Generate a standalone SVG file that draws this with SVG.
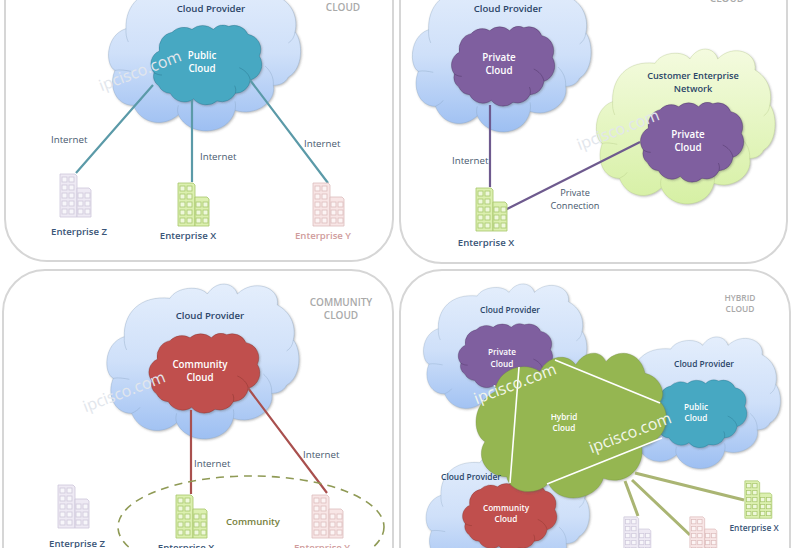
<svg xmlns="http://www.w3.org/2000/svg" width="793" height="548" viewBox="0 0 793 548">
<style>
text{font-family:"Open Sans","Noto Sans","DejaVu Sans",sans-serif;text-anchor:middle}
.frame{fill:#fff;stroke:#d6d6d6;stroke-width:2}
.title{font-size:10px;font-weight:600;fill:#a9a9a9}
.cp{font-size:9.6px;font-weight:600;fill:#2b4568}
.cp4{font-size:8.4px;font-weight:600;fill:#2b4568}
.in{font-size:9.8px;font-weight:600;fill:#fff}
.in4{font-size:8.2px;font-weight:600;fill:#fff}
.net{font-size:9.7px;fill:#47586e;text-anchor:start}
.lbl{font-size:9.2px;fill:#47586e}
.ent{font-size:9.6px;font-weight:600;fill:#3a5577}
.ent4{font-size:8.4px;font-weight:600;fill:#3a5577}
.enty{font-size:9.6px;font-weight:600;fill:#d09c9c}
.wm{font-size:16px;fill:#e2e6ec}
.wmw{font-size:16px;fill:#f2f6ea}
.blue{fill:url(#gb);stroke:#7f9ab8;filter:url(#sh)}
.lime{fill:url(#gg);stroke:#a9c07c;filter:url(#sh)}
.pub{fill:#46a8c2;stroke:#20627a;filter:url(#sh)}
.pri{fill:#7f5e9f;stroke:#35254d;filter:url(#sh)}
.com{fill:#c0504d;stroke:#6f2422;filter:url(#sh)}
.hyb{fill:#95b651;stroke:#6d8a3b;filter:url(#sh)}
.cr{fill:none}
.bZ{fill:#eeeaf4;color:#cdc7da}
.bX{fill:#dcf0b0;color:#a6c56b}
.bY{fill:#f8e6e6;color:#dcbcbc}
.l1{stroke:#5b9aa8;stroke-width:2.2;fill:none}
.l2{stroke:#6e5a8e;stroke-width:2.2;fill:none}
.l3{stroke:#a9504e;stroke-width:2.2;fill:none}
.lw{stroke:#fff;stroke-width:1.6;fill:none}
.lo{stroke:#aab573;stroke-width:3;fill:none}
</style>
<defs>
<linearGradient id="gb" x1="0" y1="0" x2="0" y2="1"><stop offset="0" stop-color="#e4eefc"/><stop offset=".5" stop-color="#cfe0f9"/><stop offset="1" stop-color="#9dbff2"/></linearGradient>
<linearGradient id="gg" x1="0" y1="0" x2="0" y2="1"><stop offset="0" stop-color="#f4fbdf"/><stop offset="1" stop-color="#d6f0a4"/></linearGradient>
<filter id="sh" x="-5%" y="-5%" width="112%" height="112%"><feDropShadow dx="1" dy="1" stdDeviation="1" flood-color="#555" flood-opacity=".4"/></filter>
<g id="big">
<path d="M373 200C370 130 420 75 510 85C530 50 600 45 622 72C650 30 700 35 712 72C760 25 840 50 832 105C870 125 890 165 880 210C905 240 905 320 860 345C850 365 830 370 815 370C825 420 760 465 700 445C680 525 560 525 530 458C490 495 420 490 395 430C340 430 320 370 340 325C310 310 310 220 373 200Z"/>
<path class="cr" d="M880 210C878 225 872 235 860 243M815 370C817 345 805 325 790 312M700 445C702 435 702 428 700 418M530 458C527 450 527 440 530 430M395 430C405 425 415 420 420 412M340 325C355 322 372 325 388 328M373 200C372 215 374 228 380 240"/>
</g>
<g id="small">
<path d="M472 268A48 48 0 0 1 510 212A50 50 0 0 1 570 203A50 50 0 0 1 634 203A42 42 0 0 1 680 194A46 46 0 0 1 738 218A46 46 0 0 1 772 283A48 48 0 0 1 745 355A46 46 0 0 1 700 395A46 46 0 0 1 645 418A50 50 0 0 1 575 412A48 48 0 0 1 505 395A42 42 0 0 1 470 372A34 34 0 0 1 456 333A42 42 0 0 1 472 268Z"/>
<path class="cr" d="M745 355C742 338 728 325 712 318M700 395C702 388 702 380 698 372M456 333C465 338 472 340 480 340"/>
</g>
<g id="b">
<path d="M1 1H16L18 3V44H1Z" stroke="currentColor" stroke-width=".8"/>
<path d="M18 15H30L32 17V44H18Z" stroke="currentColor" stroke-width=".8"/>
<g fill="#fff" fill-opacity=".55" stroke="currentColor" stroke-width=".8">
<rect x="3" y="4" width="5" height="5"/><rect x="10" y="4" width="5" height="5"/>
<rect x="3" y="12" width="5" height="5"/><rect x="10" y="12" width="5" height="5"/>
<rect x="3" y="20" width="5" height="5"/><rect x="10" y="20" width="5" height="5"/><rect x="19" y="20" width="5" height="5"/><rect x="26" y="20" width="5" height="5"/>
<rect x="3" y="28" width="5" height="5"/><rect x="10" y="28" width="5" height="5"/><rect x="19" y="28" width="5" height="5"/><rect x="26" y="28" width="5" height="5"/>
<rect x="3" y="36" width="5" height="5"/><rect x="10" y="36" width="5" height="5"/><rect x="19" y="36" width="5" height="5"/><rect x="26" y="36" width="5" height="5"/>
</g>
</g>
</defs>
<rect width="793" height="548" fill="#fff"/>
<g id="frames">
<rect class="frame" x="5" y="-40" width="388" height="301" rx="42"/>
<rect class="frame" x="400" y="-40" width="387" height="303" rx="42"/>
<rect class="frame" x="3" y="270" width="390" height="320" rx="42"/>
<rect class="frame" x="400" y="270" width="390" height="320" rx="42"/>
</g>
<g id="panel-public">
<g id="pub-provider" class="blue"><use href="#big" transform="translate(1.7,-38) scale(.3333)"/></g>
<g id="pub-cloud" class="pub"><use href="#small" transform="translate(2,-38.3) scale(.3333)"/></g>
</g>
<g id="panel-private">
<g id="pri-provider" class="blue"><use href="#big" transform="translate(313,-37) scale(.31,.3333)"/></g>
<g id="pri-cloud" class="pri"><use href="#small" transform="translate(313,-37) scale(.31,.3333)"/></g>
<g id="pri-customer" class="lime"><use href="#big" transform="translate(497,35) scale(.31,.3333)"/></g>
<g id="pri-cloud2" class="pri"><use href="#small" transform="translate(502,39) scale(.31,.3333)"/></g>
</g>
<g id="panel-community">
<g id="com-provider" class="blue"><use href="#big" transform="translate(0,270) scale(.3333)"/></g>
<g id="com-cloud" class="com"><use href="#small" transform="translate(0,270) scale(.3333)"/></g>
</g>
<g id="panel-hybrid">
<g id="hyb-provider1" class="blue"><use href="#big" transform="translate(332.7,272) scale(.2833)"/></g>
<g id="hyb-provider2" class="blue"><use href="#big" transform="translate(526.3,325) scale(.2833)"/></g>
<g id="hyb-provider3" class="blue"><use href="#big" transform="translate(335.3,438.7) scale(.2833)"/></g>
<g id="hyb-private" class="pri"><use href="#small" transform="translate(331.7,271) scale(.2833,.277)"/></g>
<g id="hyb-public" class="pub"><use href="#small" transform="translate(526,326) scale(.2833)"/></g>
<g id="hyb-community" class="com"><use href="#small" transform="translate(336,429.3) scale(.2833)"/></g>
<g id="hyb-cloud" class="hyb"><path transform="translate(400,270) scale(.3333)" d="M285 365C290 300 370 270 420 305C440 260 500 245 527 285C550 245 600 235 618 275C650 235 720 240 735 310C780 320 800 370 780 395C815 430 805 510 725 530C735 590 680 650 610 625C590 690 480 710 445 640C410 680 330 670 320 620C260 620 225 560 255 515C215 490 215 400 285 365Z"/></g>
</g>
<g id="connectors">
<path class="l1" d="M153 85L76 173M192 100V182M250 80L328 183"/>
<path class="l2" d="M490 105V187M640 142L505 210"/>
<path class="l3" d="M191 410V494M248 388L327 493"/>
<ellipse cx="251" cy="527" rx="133" ry="51" fill="none" stroke="#8f9a55" stroke-width="1.6" stroke-dasharray="8 6"/>
<path class="lw" d="M519 367L510 483M555 360L660 403M662 438L547 484"/>
<path class="lo" d="M635 473L744 500M632 480L690 535M625 481L638 516"/>
</g>
<g id="buildings">
<g id="ent-z1" class="bZ"><use href="#b" x="59" y="173"/></g>
<g id="ent-x1" class="bX"><use href="#b" x="177" y="182"/></g>
<g id="ent-y1" class="bY"><use href="#b" x="312" y="182"/></g>
<g id="ent-x2" class="bX"><use href="#b" x="475" y="187"/></g>
<g id="ent-z3" class="bZ"><use href="#b" x="57" y="484"/></g>
<g id="ent-x3" class="bX"><use href="#b" x="175" y="494"/></g>
<g id="ent-y3" class="bY"><use href="#b" x="311" y="494"/></g>
<g id="ent-x4" class="bX"><use href="#b" transform="translate(744,480) scale(.87)"/></g>
<g id="ent-z4" class="bZ"><use href="#b" transform="translate(623,516) scale(.87)"/></g>
<g id="ent-y4" class="bY"><use href="#b" transform="translate(689,516) scale(.87)"/></g>
</g>
<g id="watermarks">
<text class="wm" transform="translate(142,76) rotate(-21)">ipcisco.com</text>
<text class="wm" transform="translate(620,135) rotate(-21)">ipcisco.com</text>
<text class="wm" transform="translate(126,397) rotate(-21)">ipcisco.com</text>
<text class="wmw" transform="translate(517,389) rotate(-21)">ipcisco.com</text>
<text class="wmw" transform="translate(632,438) rotate(-21)">ipcisco.com</text>
</g>
<g id="labels">
<text class="title" x="343" y="11">CLOUD</text>
<text class="cp" x="211" y="11.5">Cloud Provider</text>
<text class="in" x="202" y="59">Public</text><text class="in" x="202" y="72">Cloud</text>
<text class="net" x="51" y="142.5">Internet</text><text class="net" x="200" y="159.5">Internet</text><text class="net" x="304" y="146.5">Internet</text>
<text class="ent" x="79" y="234.5">Enterprise Z</text><text class="ent" x="188" y="238.5">Enterprise X</text><text class="enty" x="323" y="238.5">Enterprise Y</text>
<text class="title" x="727" y="2">CLOUD</text>
<text class="cp" x="508" y="11.5">Cloud Provider</text>
<text class="in" x="499" y="61">Private</text><text class="in" x="499" y="74">Cloud</text>
<text class="cp" x="693" y="78.5" style="font-size:9.2px">Customer Enterprise</text><text class="cp" x="693" y="91.5" style="font-size:9.2px">Network</text>
<text class="in" x="688" y="138">Private</text><text class="in" x="688" y="151">Cloud</text>
<text class="net" x="452" y="163.5">Internet</text>
<text class="lbl" x="575" y="195.5">Private</text><text class="lbl" x="575" y="208.5">Connection</text>
<text class="ent" x="486" y="245.5">Enterprise X</text>
<text class="title" x="341" y="306">COMMUNITY</text><text class="title" x="341" y="319">CLOUD</text>
<text class="cp" x="210" y="318.5">Cloud Provider</text>
<text class="in" x="200" y="368">Community</text><text class="in" x="200" y="381">Cloud</text>
<text class="net" x="194" y="466.5">Internet</text><text class="net" x="303" y="457.5">Internet</text>
<text class="cp" x="253" y="524.5" style="fill:#76803c">Community</text>
<text class="ent" x="77" y="546.5">Enterprise Z</text><text class="ent" x="186" y="551">Enterprise X</text><text class="enty" x="322" y="551">Enterprise Y</text>
<text class="title" style="font-size:8.4px" x="740" y="301">HYBRID</text><text class="title" style="font-size:8.4px" x="740" y="312">CLOUD</text>
<text class="cp4" x="510" y="313">Cloud Provider</text>
<text class="in4" x="502" y="355">Private</text><text class="in4" x="502" y="367">Cloud</text>
<text class="in4" x="564" y="420">Hybrid</text><text class="in4" x="564" y="431">Cloud</text>
<text class="cp4" x="704" y="367">Cloud Provider</text>
<text class="in4" x="696" y="410">Public</text><text class="in4" x="696" y="421">Cloud</text>
<text class="cp4" x="471" y="480">Cloud Provider</text>
<text class="in4" x="506" y="511">Community</text><text class="in4" x="506" y="522">Cloud</text>
<text class="ent4" x="754" y="531">Enterprise X</text>
</g>
</svg>
